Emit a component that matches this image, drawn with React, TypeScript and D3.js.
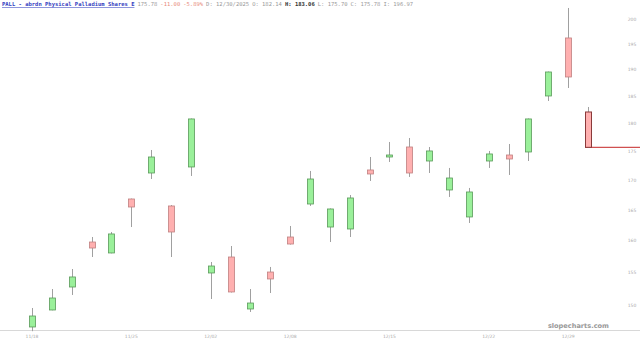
import React from "react";
import * as d3 from "d3";

const W = 640;
const H = 342;

const dates = [
  "11/18", "11/19", "11/20", "11/21", "11/24", "11/25", "11/26", "11/28", "12/01", "12/02",
  "12/03", "12/04", "12/05", "12/08", "12/09", "12/10", "12/11", "12/12", "12/15", "12/16",
  "12/17", "12/18", "12/19", "12/22", "12/23", "12/24", "12/26", "12/29", "12/30",
];
const opens = [
  146.72, 149.25, 152.74, 159.81, 158.06, 166.88, 171.3, 165.71, 172.34, 154.91,
  157.42, 149.4, 155.06, 160.62, 166.04, 162.24, 161.92, 171.82, 174.08, 175.84,
  173.38, 168.4, 163.89, 173.38, 174.43, 174.96, 185.1, 196.22, 182.14,
];
const highs = [
  149.55, 152.43, 155.53, 160.62, 161.43, 166.95, 175.31, 165.87, 180.95, 156.63,
  159.17, 152.43, 155.85, 162.41, 171.65, 165.3, 167.55, 174.08, 176.73, 177.44,
  175.84, 172.17, 168.74, 175.14, 176.37, 180.95, 189.7, 202.23, 183.06,
];
const lows = [
  146.1, 149.2, 151.52, 157.42, 158.0, 162.24, 170.27, 157.42, 170.79, 150.91,
  151.9, 148.95, 151.82, 159.4, 165.71, 159.81, 160.62, 169.93, 173.21, 170.62,
  171.3, 167.22, 162.9, 172.17, 170.96, 173.38, 184.17, 186.59, 175.7,
];
const closes = [
  148.35, 151.06, 154.29, 158.85, 161.11, 165.54, 174.08, 161.43, 180.87, 156.0,
  151.98, 150.3, 153.98, 159.49, 170.27, 165.21, 167.05, 171.13, 174.43, 171.3,
  175.14, 170.44, 168.06, 174.61, 173.73, 180.87, 189.62, 188.67, 175.78,
];
const yTicks = [150, 155, 160, 165, 170, 175, 180, 185, 190, 195, 200];
const xLabelIdx = [0, 5, 9, 13, 18, 23, 27];

export default function App() {
  const n = closes.length;
  const x = d3.scaleLinear().domain([0, n - 1]).range([32, 588]);
  const y = d3.scaleLog().domain([150, 200]).range([305, 19]);
  const bw = 6;
  const last = n - 1;
  const lastClose = closes[last];
  const prevClose = 186.78;
  const chg = lastClose - prevClose;
  const pct = (chg / prevClose) * 100;
  const mono = "'DejaVu Sans Mono', 'Liberation Mono', monospace";

  return (
    <svg
      width={W}
      height={H}
      style={{ position: "absolute", left: 0, top: 0, background: "#fff" }}
    >
      <rect x={0} y={0} width={W} height={H} fill="#ffffff" />
      {/* header */}
      <text x={2} y={6} fontFamily={mono} fontSize={5.5} fill="#999">
        <tspan fill="#3340c0" textDecoration="underline" fontWeight="bold">
          PALL - abrdn Physical Palladium Shares E
        </tspan>
        <tspan dx={3}>{lastClose.toFixed(2)}</tspan>
        <tspan dx={3} fill="#e88a7a">{chg.toFixed(2)}</tspan>
        <tspan dx={3} fill="#e88a7a">{pct.toFixed(2)}%</tspan>
        <tspan dx={3}>D: 12/30/2025</tspan>
        <tspan dx={3}>O: {opens[last].toFixed(2)}</tspan>
        <tspan dx={3} fill="#333" fontWeight="bold">H: {highs[last].toFixed(2)}</tspan>
        <tspan dx={3}>L: {lows[last].toFixed(2)}</tspan>
        <tspan dx={3}>C: {lastClose.toFixed(2)}</tspan>
        <tspan dx={3}>I: 196.97</tspan>
      </text>

      {/* y labels */}
      {yTicks.map((t) => (
        <text
          key={t}
          x={632}
          y={y(t) + 1.5}
          fontFamily="'DejaVu Sans', sans-serif"
          fontSize={4.5}
          fill="#aaa"
          textAnchor="middle"
        >
          {t}
        </text>
      ))}

      {/* x axis line */}
      <line x1={0} x2={W} y1={330.5} y2={330.5} stroke="#d8d8d8" strokeWidth={1} />
      {xLabelIdx.map((i) => (
        <text
          key={i}
          x={x(i)}
          y={338}
          fontFamily="'DejaVu Sans', sans-serif"
          fontSize={4.5}
          fill="#aaa"
          textAnchor="middle"
        >
          {dates[i]}
        </text>
      ))}

      {/* watermark */}
      <text
        x={609}
        y={328}
        fontFamily="'DejaVu Sans', sans-serif"
        fontSize={6.6}
        fontWeight="bold"
        fill="#999"
        textAnchor="end"
      >
        slopecharts.com
      </text>

      {/* last price line */}
      <line
        x1={x(last) - bw / 2}
        x2={W}
        y1={y(lastClose)}
        y2={y(lastClose)}
        stroke="#d05050"
        strokeWidth={1.3}
      />

      {/* candles */}
      {closes.map((c, i) => {
        const o = opens[i];
        const up = c >= o;
        const cx = Math.round(x(i)) + 0.5;
        const top = y(Math.max(o, c));
        const bot = y(Math.min(o, c));
        const isLast = i === last;
        return (
          <g key={i}>
            <line
              x1={cx}
              x2={cx}
              y1={y(highs[i])}
              y2={y(lows[i])}
              stroke="#a0a0a0"
              strokeWidth={1}
            />
            <rect
              x={cx - bw / 2}
              y={top}
              width={bw}
              height={Math.max(1.5, bot - top)}
              fill={up ? "#9af09a" : "#ffb0b0"}
              stroke={isLast ? "#8a3a3a" : up ? "#5a9a5a" : "#c08080"}
              strokeWidth={isLast ? 1 : 0.8}
            />
          </g>
        );
      })}
    </svg>
  );
}
